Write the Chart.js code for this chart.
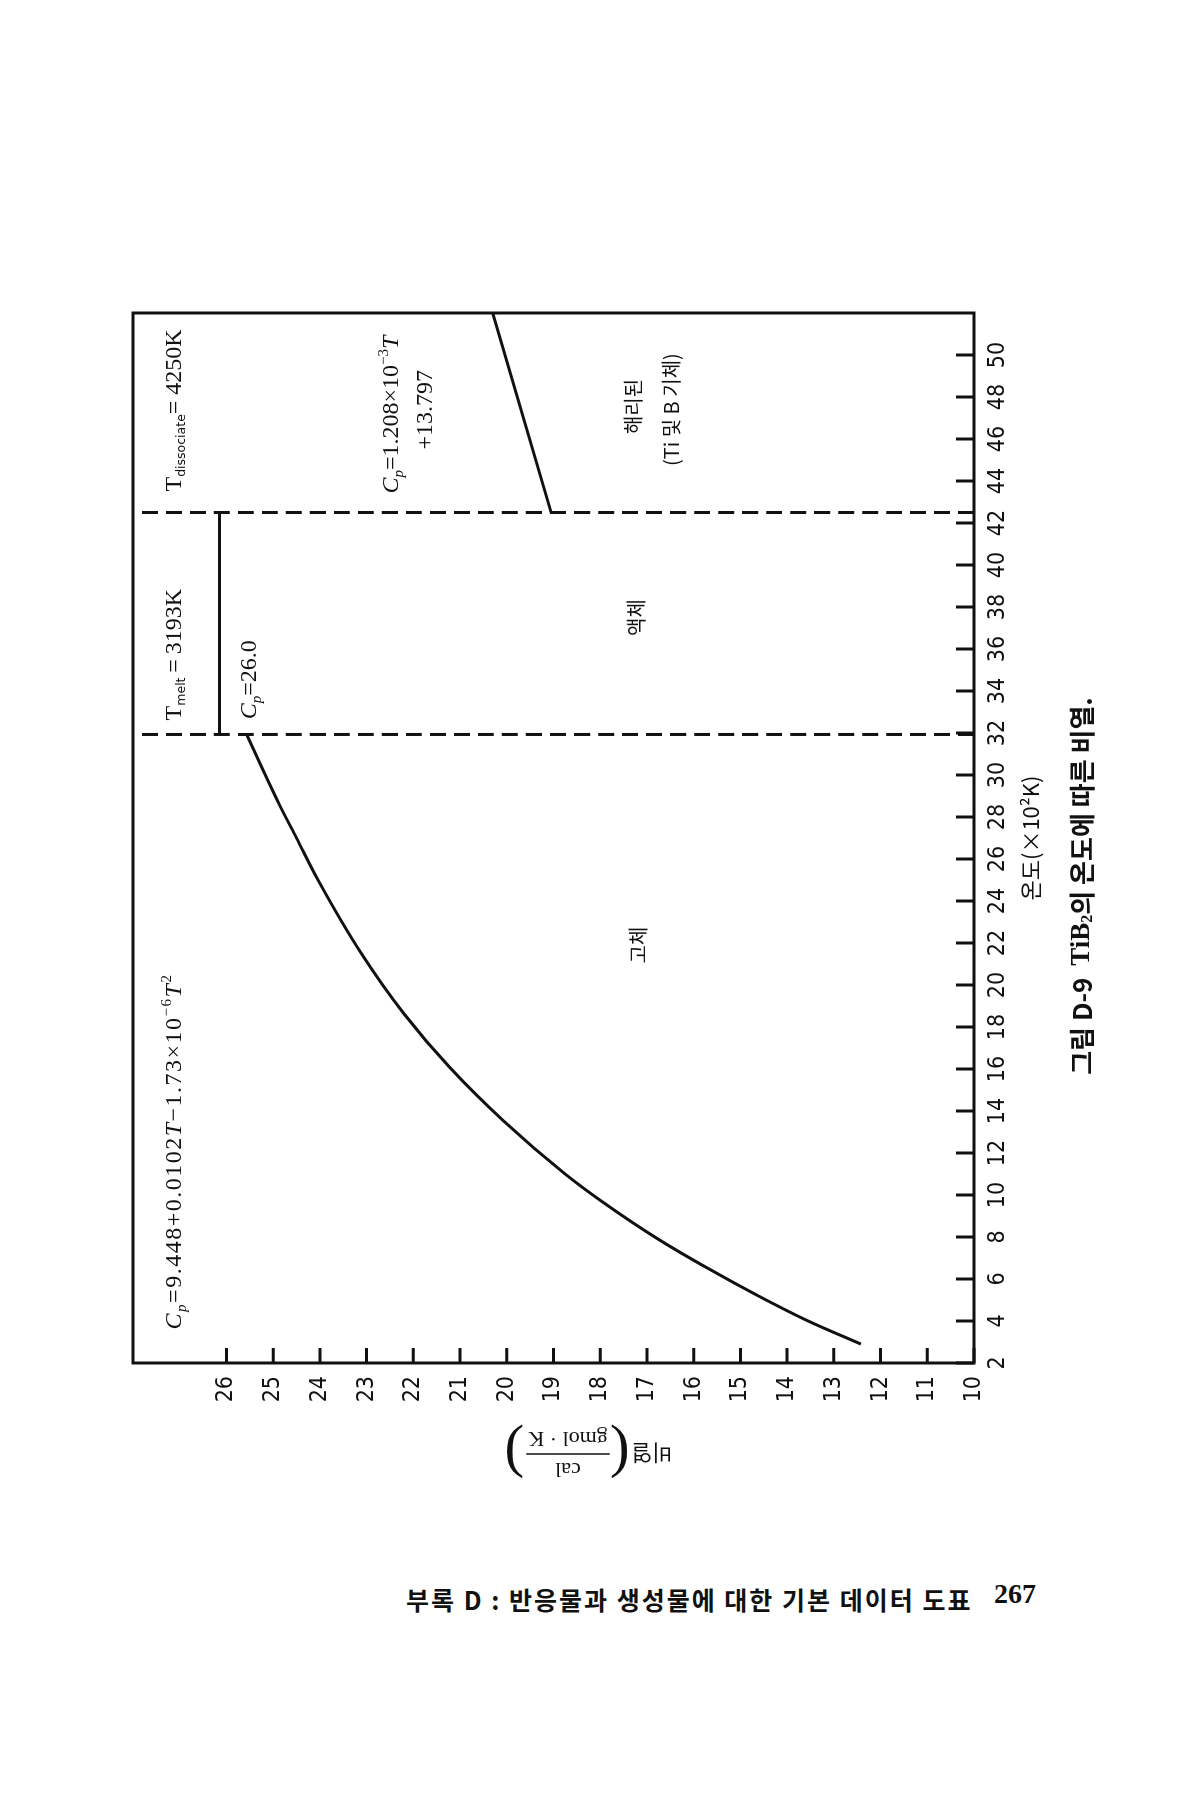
<!DOCTYPE html>
<html>
<head>
<meta charset="utf-8">
<script src="https://cdn.jsdelivr.net/npm/chart.js@4.4.1/dist/chart.umd.min.js"></script>
<style>
  body { margin: 0; background: #fff; width: 1200px; height: 1800px; position: relative; overflow: hidden; }
  #wrap { position: absolute; left: 100px; top: 1520px; width: 1268px; height: 1003px;
          transform-origin: 0 0; transform: rotate(-90deg); }
  #foot { position: absolute; left: 406px; top: 1581px; font: bold 25px 'Noto Sans CJK KR';
          letter-spacing: 2px; color: #111; }
  #pageno { position: absolute; left: 994px; top: 1578px; font: bold 28px 'Liberation Serif'; color: #111; }
</style>
</head>
<body>
<div id="wrap"><canvas id="myChart" width="1268" height="1003"></canvas></div>
<div id="foot">부록 D : 반응물과 생성물에 대한 기본 데이터 도표</div>
<div id="pageno">267</div>
<script>
// temperature in 10^2 K, heat capacity in cal/(gmol K)
let solidT = [2.9, 4.0, 5.2, 6.5, 7.9, 9.75, 11.0, 13.55, 16.07, 18.63, 21.49, 24.96, 27.0, 28.6, 31.93];
let solidCp = [12.42, 13.55, 14.62, 15.69, 16.76, 18.0, 18.75, 20.08, 21.22, 22.2, 23.11, 24.03, 24.5, 24.87, 25.57];
let liquidT = [31.93, 42.5];
let liquidCp = [26.15, 26.15];
let gasT = [42.5, 52];
let gasCp = [19.05, 20.3];
let meltT = 31.93;
let dissocT = 42.5;
let xTicksMax = 50;
let yTicksMax = 26;

const ink = "#111";
const serif = "'Liberation Serif', serif";
const numFont = "'Liberation Sans Narrow', 'DejaVu Sans Condensed', 'Liberation Serif', serif";
const kr = "'Noto Sans CJK KR', sans-serif";

function pts(xs, ys) {
  return xs.map((x, i) => ({ x: x, y: ys[i] }));
}

function lineSet(data, dash) {
  return {
    data: data,
    borderColor: ink,
    borderWidth: 3,
    borderDash: dash || [],
    pointRadius: 0,
    fill: false,
    tension: 0.4,
    cubicInterpolationMode: "monotone",
  };
}

function runsWidth(ctx, list) {
  let w = 0;
  list.forEach((r) => { ctx.font = r.f; w += ctx.measureText(r.t).width; });
  return w;
}

function runs(ctx, x, y, list) {
  list.forEach((r) => {
    ctx.font = r.f;
    ctx.fillText(r.t, x, y + (r.dy || 0));
    x += ctx.measureText(r.t).width;
  });
}

const rm = "24px " + serif;
const it = "italic 24px " + serif;
const sub = "italic 15px " + serif;
const sup = "15px " + serif;
const tiny = "12.5px 'DejaVu Sans', sans-serif";

const annotate = {
  id: "annotate",
  afterDatasetsDraw(chart) {
    const ctx = chart.ctx, xs = chart.scales.x, ys = chart.scales.y, a = chart.chartArea;
    ctx.save();
    ctx.strokeStyle = ink;
    ctx.fillStyle = ink;
    // frame
    ctx.lineWidth = 3;
    ctx.strokeRect(a.left, a.top, a.right - a.left, a.bottom - a.top);
    // inward ticks
    ctx.beginPath();
    xs.ticks.forEach((t) => {
      if (t.value > xTicksMax) return;
      const px = xs.getPixelForValue(t.value);
      ctx.moveTo(px, a.bottom);
      ctx.lineTo(px, a.bottom - 18);
    });
    ys.ticks.forEach((t) => {
      if (t.value > yTicksMax) return;
      const py = ys.getPixelForValue(t.value);
      ctx.moveTo(a.left, py);
      ctx.lineTo(a.left + 15, py);
    });
    ctx.stroke();

    // texts inside the plot
    ctx.textBaseline = "alphabetic";
    ctx.textAlign = "left";
    const X = (v) => xs.getPixelForValue(v);
    const Y = (v) => ys.getPixelForValue(v);
    ctx.letterSpacing = "1.5px";
    runs(ctx, X(3.6), Y(26.98), [
      { t: "C", f: it }, { t: "p", f: sub, dy: 5 }, { t: "=9.448+0.0102", f: rm },
      { t: "T", f: it }, { t: "−1.73×10", f: rm }, { t: "−6", f: sup, dy: -10 },
      { t: "T", f: it }, { t: "2", f: sup, dy: -10 },
    ]);
    ctx.letterSpacing = "0px";
    runs(ctx, X(32.6), Y(26.98), [
      { t: "T", f: rm }, { t: "melt", f: tiny, dy: 4 }, { t: "\u2009=\u20093193K", f: rm },
    ]);
    runs(ctx, X(43.5), Y(26.98), [
      { t: "T", f: rm }, { t: "dissociate", f: tiny, dy: 4 }, { t: "= 4250K", f: rm },
    ]);
    runs(ctx, X(32.65), Y(25.36), [
      { t: "C", f: it }, { t: "p", f: sub, dy: 5 }, { t: "=26.0", f: rm },
    ]);
    runs(ctx, X(43.4), Y(22.32), [
      { t: "C", f: it }, { t: "p", f: sub, dy: 5 }, { t: "=1.208×10", f: rm },
      { t: "−3", f: sup, dy: -10 }, { t: "T", f: it },
    ]);
    runs(ctx, X(45.5), Y(21.61), [{ t: "+13.797", f: rm }]);

    ctx.textAlign = "center";
    ctx.textBaseline = "middle";
    ctx.font = "20px " + kr;
    ctx.fillText("해리된", X(47.55), Y(17.29));
    ctx.fillText("(Ti 및 B 기체)", X(47.4), Y(16.48));
    ctx.fillText("액체", X(37.5), Y(17.23));
    ctx.fillText("고체", X(21.9), Y(17.19));

    // figure caption under the temperature axis
    ctx.textAlign = "left";
    ctx.textBaseline = "middle";
    const bk = "bold 26px " + kr;
    const bs = "bold 27px " + serif;
    const cap = [
      { t: "그림 D-9  ", f: bk }, { t: "TiB", f: bs }, { t: "2", f: "bold 16px " + serif, dy: 6 },
      { t: "의 온도에 따른 비열.", f: bk },
    ];
    runs(ctx, 634 - runsWidth(ctx, cap) / 2, a.bottom + 108, cap);

    // y axis title: 비열 (cal / gmol·K)
    ctx.translate(a.left - 92, Y(18.3));
    ctx.rotate(-Math.PI / 2);
    ctx.textAlign = "left";
    ctx.font = "22px " + kr;
    let x = -86;
    ctx.fillText("비열", x, 2);
    x += ctx.measureText("비열").width + 2;
    ctx.font = "60px " + serif;
    ctx.fillText("(", x, 2);
    x += ctx.measureText("(").width + 2;
    ctx.font = "22px " + serif;
    const fw = ctx.measureText("gmol · K").width;
    ctx.textAlign = "center";
    ctx.fillText("cal", x + fw / 2, -14);
    ctx.fillText("gmol · K", x + fw / 2, 17);
    ctx.lineWidth = 1.5;
    ctx.beginPath();
    ctx.moveTo(x - 2, 1);
    ctx.lineTo(x + fw + 2, 1);
    ctx.stroke();
    ctx.textAlign = "left";
    ctx.font = "60px " + serif;
    ctx.fillText(")", x + fw + 4, 2);
    ctx.restore();
  },
};

var ctx = document.getElementById("myChart");

var myChart = new Chart(ctx, {
  type: "line",
  data: {
    datasets: [
      lineSet(pts(solidT, solidCp)),
      lineSet(pts(liquidT, liquidCp)),
      lineSet(pts(gasT, gasCp)),
      lineSet(pts([meltT, meltT], [10, 28]), [16, 8]),
      lineSet(pts([dissocT, dissocT], [10, 28]), [16, 8]),
    ],
  },
  options: {
    responsive: false,
    animation: false,
    layout: { padding: { top: 33, right: 61, left: 0, bottom: 59 } },
    plugins: {
      legend: { display: false },
      tooltip: { enabled: false },
    },
    scales: {
      x: {
        type: "linear",
        min: 2,
        max: 52,
        grid: { display: false },
        border: { display: false },
        ticks: {
          stepSize: 2,
          padding: 2,
          color: ink,
          maxRotation: 0,
          autoSkip: false,
          font: { family: numFont, size: 23 },
          callback: (v) => (v > xTicksMax ? "" : v),
        },
        title: {
          display: true,
          text: "온도(×10²K)",
          color: ink,
          font: { family: kr, size: 22 },
          padding: { top: 0, bottom: 0 },
        },
        afterFit: (s) => { s.height = 70; },
      },
      y: {
        min: 10,
        max: 28,
        grid: { display: false },
        border: { display: false },
        ticks: {
          stepSize: 1,
          padding: 5,
          color: ink,
          autoSkip: false,
          font: { family: numFont, size: 23 },
          callback: (v) => (v > yTicksMax ? "" : v),
        },
        afterFit: (s) => { s.width = 157; },
      },
    },
  },
  plugins: [annotate],
});
</script>
</body>
</html>
